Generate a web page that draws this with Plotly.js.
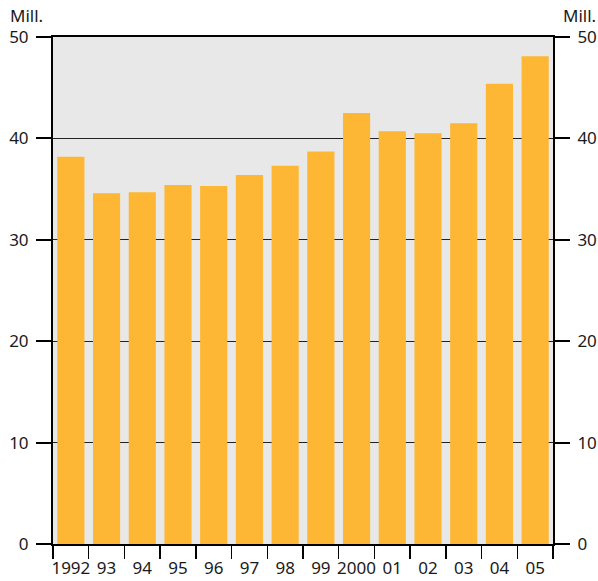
<!DOCTYPE html>
<html><head><meta charset="utf-8">
<script src="https://cdn.plot.ly/plotly-3.0.1.min.js"></script>
<style>body{margin:0;background:#fff}#c{width:598px;height:581px}</style>
</head><body><div id="c"></div>
<script>
const years = ["1992","93","94","95","96","97","98","99","2000","01","02","03","04","05"];
const values = [38.2,34.6,34.7,35.4,35.3,36.4,37.3,38.7,42.5,40.7,40.5,41.5,45.4,48.1];
const yTicks = [0,10,20,30,40,50];
const unitLabel = "Mill.";

const font = {family:"Noto Sans, Open Sans, sans-serif", size:17, color:"#1a1a1a"};
const yCommon = {
  range:[0,50], tickvals:yTicks, ticktext:yTicks.map(String),
  ticks:"outside", ticklen:15, tickwidth:2, tickcolor:"#000",
  showline:true, linecolor:"#000", linewidth:2,
  fixedrange:true, tickfont:font, zeroline:false, ticklabelstandoff:4
};
const data = [
  {type:"bar", x:years, y:values, marker:{color:"#fdb734", line:{width:0}}, hoverinfo:"x+y"},
  {type:"scatter", x:years, y:values, yaxis:"y2", mode:"markers", marker:{opacity:0}, hoverinfo:"skip", showlegend:false}
];
const layout = {
  width:598, height:581,
  margin:{l:53, r:45, t:37, b:37},
  paper_bgcolor:"#fff", plot_bgcolor:"#e8e8e8",
  showlegend:false, bargap:0.24,
  font:font,
  xaxis:{type:"category", range:[-0.5, years.length-0.5], autorange:false,
         tickson:"boundaries", ticks:"outside", ticklen:13, tickwidth:1.5, tickcolor:"#000",
         tickangle:0, showline:true, linecolor:"#000", linewidth:2, mirror:true, showgrid:false,
         tickfont:font, fixedrange:true, ticklabelstandoff:8},
  yaxis:Object.assign({}, yCommon, {side:"left", showgrid:true, gridcolor:"#222", gridwidth:1}),
  yaxis2:Object.assign({}, yCommon, {side:"right", overlaying:"y", showgrid:false}),
  annotations:[
    {text:unitLabel, xref:"paper", yref:"paper", x:-0.09, y:1.0, yshift:8, xanchor:"left", yanchor:"bottom", showarrow:false, font:font},
    {text:unitLabel, xref:"paper", yref:"paper", x:1.09, y:1.0, yshift:8, xanchor:"right", yanchor:"bottom", showarrow:false, font:font}
  ]
};
Plotly.newPlot("c", data, layout, {displayModeBar:false, staticPlot:true});
</script></body></html>
